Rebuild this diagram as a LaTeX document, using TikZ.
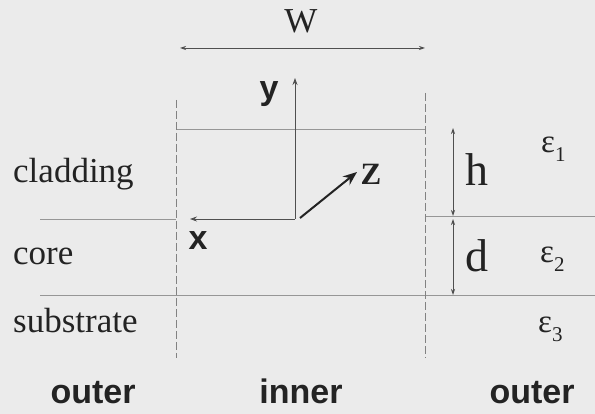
\documentclass[tikz,border=0pt]{standalone}
\usepackage{fontspec}
\setmainfont{Liberation Serif}
\setsansfont{Liberation Sans}
\usetikzlibrary{arrows.meta}
\definecolor{bg}{RGB}{235,235,235}
\definecolor{ink}{RGB}{35,35,35}
\definecolor{ln}{RGB}{150,150,150}
\definecolor{dl}{RGB}{130,130,130}
\tikzset{
  lbl/.style={inner sep=0pt, text=ink, anchor=base},
  serif/.style={lbl, font=\fontsize{35}{40}\selectfont},
  bigserif/.style={lbl, font=\fontsize{46}{50}\selectfont},
  sanslbl/.style={lbl, font=\sffamily\bfseries\fontsize{34}{40}\selectfont},
  eps/.style={lbl, anchor=base west, font=\fontsize{33}{36}\selectfont},
  hline/.style={draw=ln, line width=0.9pt},
  dline/.style={draw=dl, line width=0.9pt, dash pattern=on 8pt off 3pt},
  dim/.style={draw=ink!80, line width=0.8pt, {Stealth[length=6pt,width=4pt]}-{Stealth[length=6pt,width=4pt]}},
  axis/.style={draw=ink!80, line width=0.8pt, -{Stealth[length=7pt,width=5pt]}},
  zaxis/.style={draw=ink, line width=2pt, -{Stealth[length=14pt,width=11pt]}}
}
\newcommand{\epsl}[1]{ε\raisebox{-0.25em}{\fontsize{21}{21}\selectfont #1}}
\begin{document}
\begin{tikzpicture}[x=1pt,y=-1pt]
\fill[bg] (0,0) rectangle (595,414);
\useasboundingbox (0,0) rectangle (595,414);
% coordinates
\coordinate (wl) at (180,48);
\coordinate (wr) at (425,48);
\coordinate (dlt) at (176,100);
\coordinate (dlb) at (176,358);
\coordinate (drt) at (425,93);
\coordinate (drb) at (425,358);
\coordinate (bt1) at (176,129);
\coordinate (bt2) at (425,129);
\coordinate (cl1) at (40,219);
\coordinate (cl2) at (176,219);
\coordinate (cr1) at (425,216);
\coordinate (cr2) at (595,216);
\coordinate (sl) at (40,295);
\coordinate (sr) at (595,295);
\coordinate (o) at (295,219);
\coordinate (ytip) at (295,78);
\coordinate (xtip) at (190,219);
\coordinate (zs) at (300,218);
\coordinate (ztip) at (357,172);
\coordinate (ht) at (453,128);
\coordinate (hb) at (453,216);
\coordinate (dt) at (453,219);
\coordinate (db) at (453,295);
% lines
\draw[hline] (bt1) -- (bt2);
\draw[hline] (cl1) -- (cl2);
\draw[hline] (cr1) -- (cr2);
\draw[hline] (sl) -- (sr);
\draw[dline] (dlt) -- (dlb);
\draw[dline] (drt) -- (drb);
\draw[dim] (wl) -- (wr);
\draw[dim] (ht) -- (hb);
\draw[dim] (dt) -- (db);
\draw[axis] (o) -- (ytip);
\draw[axis] (o) -- (xtip);
\draw[zaxis] (zs) -- (ztip);
% labels
\node[serif] (W) at (301,33) {W};
\node[sanslbl] (ylab) at (269,100) {y};
\node[sanslbl] (xlab) at (198,250) {x};
\node[lbl, font=\bfseries\fontsize{31}{36}\selectfont] (zlab) at (371,185) {Z};
\node[bigserif] (hlab) at (477,186) {h};
\node[bigserif] (dlab) at (477,272) {d};
\node[eps] (e1) at (541,153) {\epsl{1}};
\node[eps] (e2) at (540,263) {\epsl{2}};
\node[eps] (e3) at (538,333) {\epsl{3}};
\node[serif, anchor=base west] (clad) at (13,183) {cladding};
\node[serif, anchor=base west] (core) at (13,265) {core};
\node[serif, anchor=base west] (sub) at (13,333) {substrate};
\node[sanslbl] (out1) at (93,403) {outer};
\node[sanslbl] (inn) at (301,403) {inner};
\node[sanslbl] (out2) at (532,403) {outer};
\end{tikzpicture}
\end{document}
